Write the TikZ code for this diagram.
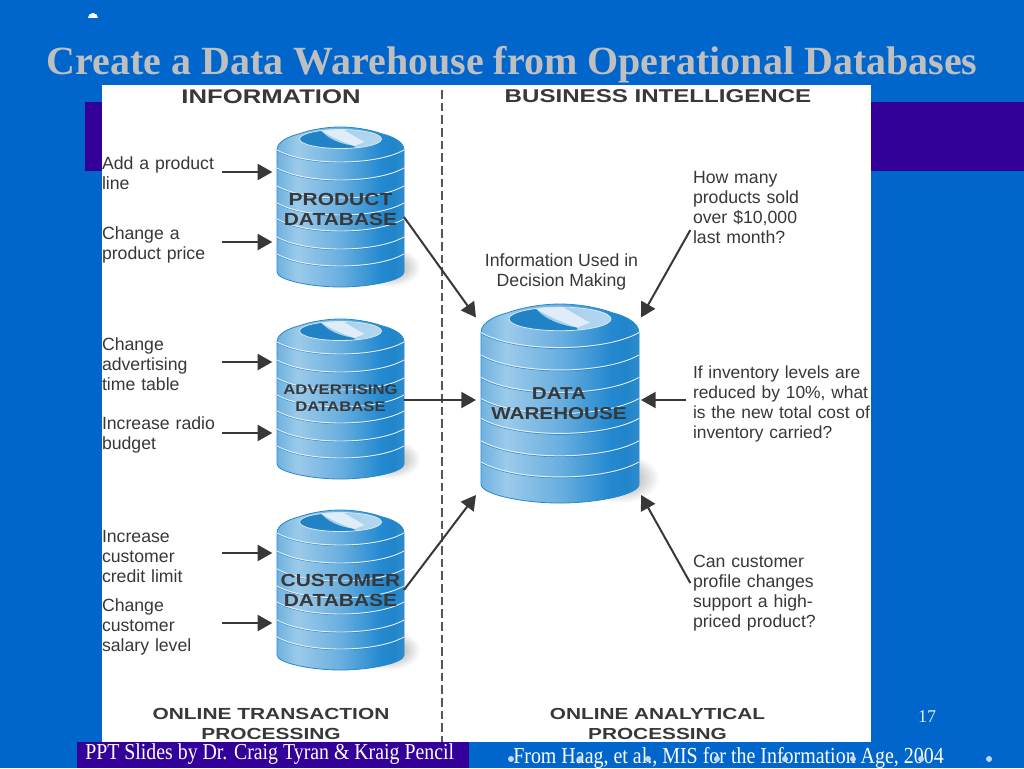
\documentclass[tikz,border=0pt]{standalone}
\usepackage{fontspec}
\setmainfont{Liberation Sans}
\newfontfamily\wide[FakeStretch=1.3]{Liberation Sans}
\newfontfamily\dbwide[FakeStretch=1.2]{Liberation Sans}
\newfontfamily\ttl{Liberation Serif}
\newfontfamily\foot[FakeStretch=0.87]{Liberation Serif}
\usetikzlibrary{arrows.meta}
\definecolor{slidebg}{HTML}{0066CC}
\definecolor{barpurple}{HTML}{330099}
\definecolor{inkdark}{HTML}{383838}
\definecolor{rim}{HTML}{2389D0}
\pgfdeclarehorizontalshading{cylshade}{100bp}{
  color(0bp)=(rim!85!black);
  color(3bp)=(rim);
  color(20bp)=(rim!78!white);
  color(33bp)=(rim!45!white);
  color(50bp)=(rim!68!white);
  color(66bp)=(rim);
  color(71bp)=(rim!97!black);
  color(85bp)=(rim!82!white);
  color(97bp)=(rim!72!white);
  color(100bp)=(rim)}
\pgfdeclarehorizontalshading{dishshade}{100bp}{
  color(0bp)=(rim!60!white);
  color(50bp)=(rim!40!white);
  color(100bp)=(rim!28!white)}
\newcommand{\dbcyl}[3]{%
  \begin{scope}[shift={(#1,#2)},scale=#3]
    \shade[inner color=black!42,outer color=white] (48,140) ellipse [x radius=32,y radius=20];
    \path[shading=cylshade,draw=rim,line width=.6pt]
      (-63.5,23) .. controls (-63.5,14) and (-50,9) .. (-42,7)
      .. controls (-28,2) and (-12,0) .. (0,0)
      .. controls (12,0) and (28,2) .. (42,7)
      .. controls (50,9) and (63.5,14) .. (63.5,23)
      -- (63.5,145) .. controls (63.5,153) and (30,160) .. (0,160)
      .. controls (-30,160) and (-63.5,153) .. (-63.5,145) -- cycle;
    \begin{scope}
      \clip (0,12) ellipse [x radius=41,y radius=9.5];
      \shade[shading=dishshade] (-42,0) rectangle (42,24);
      \fill[rim!95!black] (-42,0) -- (-22,0) .. controls (-15,12) and (0,17) .. (14,19) -- (14,24) -- (-42,24) -- cycle;
      \fill[white!85!rim] (-22,2) -- (-2,0) -- (24,15) -- (14,19) .. controls (0,14) and (-12,9) .. (-22,2) -- cycle;
    \end{scope}
    \draw[white!80!rim,line width=.6pt] (0,12) ellipse [x radius=41,y radius=9.5];
    \foreach \by in {23,41,59,76,92,110,127}{
      \draw[rim!88!black,line width=.3pt] (-63.5,\by+.8) .. controls (-35,\by+16.8) and (35,\by+16.8) .. (63.5,\by+.8);
      \draw[white!85!rim,line width=.7pt] (-63.5,\by) .. controls (-35,\by+16) and (35,\by+16) .. (63.5,\by);
    }
  \end{scope}}
\tikzset{
  px/.style={x=.75pt,y=-.75pt},
  conn/.style={draw=inkdark,line width=1.5pt,-{Triangle[length=11pt,width=12pt]}},
  shapebox/.style={inner sep=0pt,outer sep=0pt,draw=none},
  note/.style={inner sep=0pt,outer sep=0pt,align=left,font=\fontsize{13.25}{15}\selectfont,text=inkdark,anchor=west},
  heading/.style={inner sep=0pt,outer sep=0pt,align=center,text=inkdark},
  dblabel/.style={inner sep=0pt,outer sep=0pt,align=center,text=inkdark},
}
\begin{document}
\begin{tikzpicture}[px]
\useasboundingbox (0,0) rectangle (1024,768);
\fill[slidebg] (0,0) rectangle (1024,768);
\fill[barpurple] (85,102) rectangle (1024,171);
\fill[white] (102,85) rectangle (871,742);
\fill[barpurple] (77,742) rectangle (469,768);
\begin{scope}
  \clip (85,12) rectangle (100,17);
  \fill[white] (93,18) ellipse [x radius=5,y radius=5];
\end{scope}
\node[inner sep=0pt,text=black!25,font=\ttl\bfseries\fontsize{30}{32}\selectfont] (title) at (512,65) {Create a Data Warehouse from Operational Databases};

\draw[inkdark!85!white,line width=1.9pt,dash pattern=on 6.5pt off 3pt] (442,90) -- (442,742);

\node[heading,font=\wide\bfseries\fontsize{14.8}{15}\selectfont] (hinfo) at (271,96.5) {INFORMATION};
\node[heading,font=\wide\bfseries\fontsize{13.9}{15}\selectfont] (hbi) at (658,96.5) {BUSINESS INTELLIGENCE};
\node[heading,font=\wide\bfseries\fontsize{12.05}{15}\selectfont] (holtp) at (271,723.5) {ONLINE TRANSACTION\\PROCESSING};
\node[heading,font=\wide\bfseries\fontsize{12}{15}\selectfont] (holap) at (657.5,723.5) {ONLINE ANALYTICAL\\PROCESSING};

\dbcyl{340.5}{127}{1}
\dbcyl{340.5}{319}{1}
\dbcyl{340.5}{510}{1}
\dbcyl{560}{304}{1.244}

\node[shapebox,minimum width=95.25pt,minimum height=120pt] (prod) at (340.5,207) {};
\node[shapebox,minimum width=95.25pt,minimum height=120pt] (adv) at (340.5,400) {};
\node[shapebox,minimum width=95.25pt,minimum height=120pt] (cust) at (340.5,590) {};
\node[shapebox,minimum width=123.75pt,minimum height=142.5pt] (dw) at (558.5,400) {};

\node[dblabel,font=\dbwide\bfseries\fontsize{13.1}{15}\selectfont] (lprod) at (340.5,209) {PRODUCT\\DATABASE};
\node[dblabel,font=\dbwide\bfseries\fontsize{10.45}{12.8}\selectfont] (ladv) at (340.5,398.5) {ADVERTISING\\DATABASE};
\node[dblabel,font=\dbwide\bfseries\fontsize{13.1}{15}\selectfont] (lcust) at (340.5,590) {CUSTOMER\\DATABASE};
\node[dblabel,font=\dbwide\bfseries\fontsize{12.9}{15}\selectfont] (ldw) at (559,404) {DATA\\WAREHOUSE};

\node[note,text width=87pt] (t1) at (102,173) {Add a product\\line};
\node[note,text width=87pt] (t2) at (102,245) {Change a\\product price};
\node[note,text width=87pt] (t3) at (102,364) {Change\\advertising\\time table};
\node[note,text width=87pt] (t4) at (102,435) {Increase radio\\budget};
\node[note,text width=87pt] (t5) at (102,556) {Increase\\customer\\credit limit};
\node[note,text width=87pt] (t6) at (102,627) {Change\\customer\\salary level};

\node[note,align=center,anchor=center] (info) at (561.5,272) {Information Used in\\Decision Making};
\node[note,text width=145pt] (how) at (693,208) {How many\\products sold\\over \$10,000\\last month?};
\node[note,text width=145pt,font=\fontsize{13.05}{15}\selectfont] (inv) at (693,404) {If inventory levels are\\reduced by 10\%, what\\is the new total cost of\\inventory carried?};
\node[note,text width=145pt] (can) at (693,593) {Can customer\\profile changes\\support a high-\\priced product?};

\foreach \src/\dst/\yo in {t1/prod/.75pt,t2/prod/2.25pt,t3/adv/1.5pt,t4/adv/1.5pt,t5/cust/2.25pt,t6/cust/3pt}{
  \draw[conn,shorten <=3pt,shorten >=3.5pt] ([yshift=\yo]\src.east) -- ([yshift=\yo]\src.east -| \dst.west);
}
\draw[conn] (prod.-9) -- (dw.135);
\draw[conn] (adv.east) -- (dw.west);
\draw[conn] (cust.east) -- (dw.south west);
\draw[conn] ([xshift=-2pt,yshift=-16.5pt]how.west) -- (dw.45);
\draw[conn] ([xshift=-5pt,yshift=3pt]inv.west) -- (dw.east);
\draw[conn] ([xshift=-2pt,yshift=7.5pt]can.west) -- (dw.south east);

\node[inner sep=0pt,text=white!88!slidebg,font=\ttl\fontsize{13.5}{15}\selectfont] (num) at (927,717) {17};
\node[inner sep=0pt,anchor=west,text=white,font=\foot\fontsize{17.1}{18}\selectfont] (fl) at (85,754) {PPT Slides by Dr. Craig Tyran \& Kraig Pencil};
\node[inner sep=0pt,anchor=west,text=white,font=\foot\fontsize{17.2}{18}\selectfont] (fr) at (513,758) {From Haag, et al., MIS for the Information Age, 2004};
\foreach \bx in {511,580,648,717,785,853,921,989}{
  \fill[white!75!slidebg] (\bx,759) circle [radius=3];
}
\end{tikzpicture}
\end{document}
